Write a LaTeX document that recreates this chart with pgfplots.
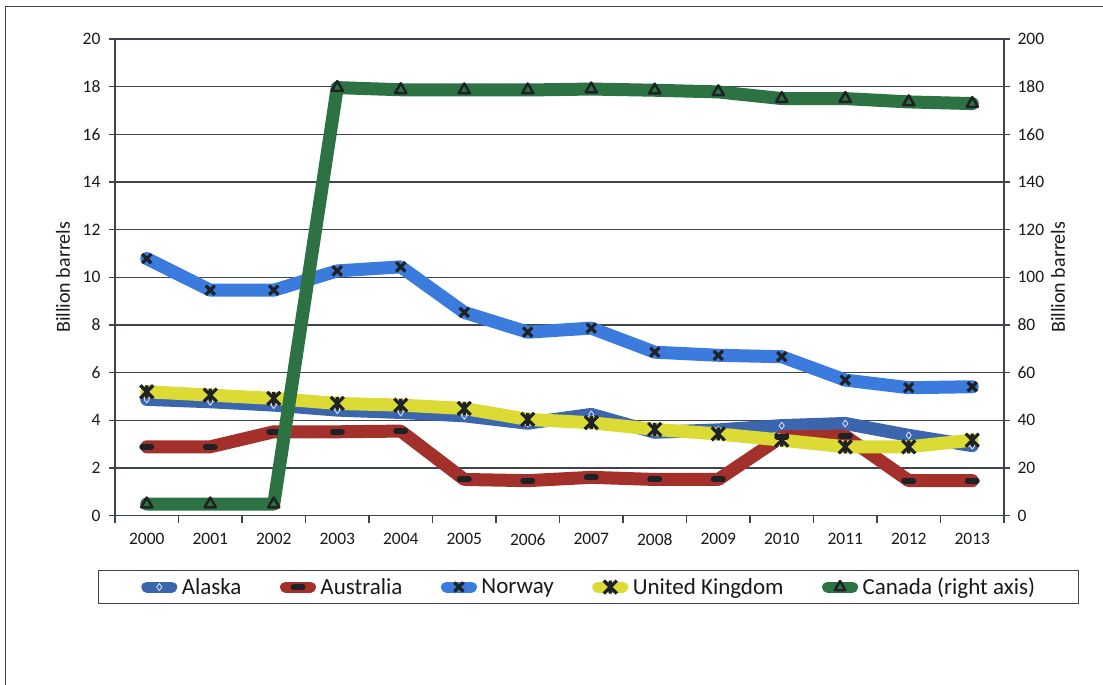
\documentclass[border=0pt]{standalone}
\usepackage{pgfplots}
\pgfplotsset{compat=1.18}
\usepackage{fontspec}
\setmainfont{Carlito}

\definecolor{alaska}{HTML}{3B66AE}
\definecolor{austr}{HTML}{A3302A}
\definecolor{norway}{HTML}{3A7BDD}
\definecolor{uk}{HTML}{DCDA34}
\definecolor{canada}{HTML}{2D7242}
\definecolor{gridc}{HTML}{3F454C}
\definecolor{markc}{HTML}{1E2224}

% Excel "star": x plus a vertical bar
\pgfdeclareplotmark{xstar}{%
  \pgfpathmoveto{\pgfpoint{-\pgfplotmarksize}{-\pgfplotmarksize}}%
  \pgfpathlineto{\pgfpoint{\pgfplotmarksize}{\pgfplotmarksize}}%
  \pgfpathmoveto{\pgfpoint{-\pgfplotmarksize}{\pgfplotmarksize}}%
  \pgfpathlineto{\pgfpoint{\pgfplotmarksize}{-\pgfplotmarksize}}%
  \pgfpathmoveto{\pgfpoint{0pt}{-\pgfplotmarksize}}%
  \pgfpathlineto{\pgfpoint{0pt}{\pgfplotmarksize}}%
  \pgfusepathqstroke}

\pgfplotsset{
  base/.style={
    at={(115pt,169.3pt)}, anchor=south west,
    scale only axis, width=889pt, height=476.7pt,
    xmin=-0.5, xmax=13.5,
    tick align=outside,
    /pgf/number format/assume math mode=true,
    tick label style={font=\fontsize{17.5}{20}\selectfont, text=black!90},
    label style={font=\fontsize{20}{22}\selectfont, text=black!90},
    axis line style={gridc, line width=1.4pt},
    tick style={gridc, line width=1.4pt},
    major tick length=6pt,
  },
  ser/.style={line width=13pt, line join=round, line cap=round},
  legend image code/.code={%
    \draw[#1, line width=11pt, mark repeat=2, mark phase=2]
      plot coordinates {(0pt,0pt) (12.5pt,0pt) (25pt,0pt)};},
}

\begin{document}
\begin{tikzpicture}
\path[use as bounding box] (0,0) rectangle (1103pt,685pt);
\draw[gridc, line width=1pt] (5pt,0pt) -- (5pt,678pt) -- (1103pt,678pt);

\begin{axis}[base,
  ymin=0, ymax=20, ytick={0,2,...,20},
  axis y line*=left, axis x line*=bottom,
  xtick={0,...,13},
  xticklabels={2000,2001,2002,2003,2004,2005,2006,2007,2008,2009,2010,2011,2012,2013},
  x tick label style={yshift=-8pt},
  y tick label style={xshift=-5pt},
  major x tick style={draw=none},
  minor xtick={-0.5,0.5,...,13.5},
  minor tick length=7pt,
  minor x tick style={gridc, line width=1.4pt},
  ymajorgrids, grid style={gridc, line width=1.2pt},
  ylabel={Billion barrels},
  ylabel style={at={(axis description cs:0,0.5)}, anchor=center, yshift=52pt},
  legend columns=5,
  legend style={at={(axis description cs:0.5326,-0.1496)}, anchor=center,
    draw=gridc, line width=1.2pt, inner xsep=43pt, inner ysep=7pt,
    font=\fontsize{23}{26}\selectfont,
    nodes={inner sep=0.5pt, text=black!90},
    /tikz/every odd column/.append style={column sep=4pt},
    /tikz/every even column/.append style={column sep=38pt}},
]
\addplot[ser, alaska, mark=diamond, mark size=3.5pt,
  mark options={draw=blue!15!white, fill=none, line width=0.9pt}]
  coordinates {(0,4.88)(1,4.78)(2,4.64)(3,4.43)(4,4.33)(5,4.19)(6,3.88)
    (7,4.25)(8,3.5)(9,3.6)(10,3.78)(11,3.87)(12,3.37)(13,2.94)};
\addlegendentry{Alaska}
\addplot[ser, austr, mark=-, mark size=4.5pt,
  mark options={draw=markc, line width=6pt, line cap=round}]
  coordinates {(0,2.89)(1,2.89)(2,3.52)(3,3.52)(4,3.55)(5,1.52)(6,1.47)
    (7,1.61)(8,1.52)(9,1.52)(10,3.31)(11,3.34)(12,1.47)(13,1.47)};
\addlegendentry{Australia}
\addplot[ser, norway, mark=x, mark size=6.5pt,
  mark options={draw=markc, line width=3.2pt, line cap=butt}]
  coordinates {(0,10.79)(1,9.46)(2,9.46)(3,10.27)(4,10.44)(5,8.53)(6,7.7)
    (7,7.87)(8,6.86)(9,6.73)(10,6.67)(11,5.69)(12,5.37)(13,5.41)};
\addlegendentry{Norway}
\addplot[ser, uk, mark=xstar, mark size=6.5pt,
  mark options={draw=markc, line width=3.2pt, line cap=butt}]
  coordinates {(0,5.2)(1,5.06)(2,4.92)(3,4.71)(4,4.64)(5,4.5)(6,4.04)
    (7,3.9)(8,3.62)(9,3.43)(10,3.17)(11,2.89)(12,2.89)(13,3.17)};
\addlegendentry{United Kingdom}
\addlegendimage{ser, canada, mark=triangle, mark size=6pt,
  mark options={draw=markc, fill=canada, line width=2.5pt}}
\addlegendentry{Canada (right axis)}
\end{axis}

\begin{axis}[base,
  ymin=0, ymax=200, ytick={0,20,...,200},
  axis y line*=right, axis x line=none,
  y tick label style={xshift=4pt},
  ylabel={Billion barrels},
  ylabel style={at={(axis description cs:1,0.5)}, anchor=center, yshift=-54pt},
]
\addplot[ser, canada, mark=triangle, mark size=6.5pt,
  mark options={draw=markc, fill=canada, line width=2.5pt}]
  coordinates {(0,4.9)(1,4.9)(2,4.9)(3,179.6)(4,178.7)(5,178.6)(6,178.6)
    (7,179)(8,178.5)(9,177.8)(10,175)(11,175)(12,173.6)(13,172.9)};
\end{axis}
\end{tikzpicture}
\end{document}
